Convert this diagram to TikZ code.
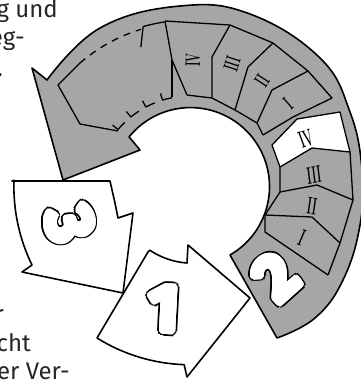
\documentclass[tikz,border=0pt]{standalone}
\usepackage{fontspec}
\usepackage{graphicx}
\newfontfamily\txtfont{Fira Sans}
\newfontfamily\digfont{Fira Sans}
\definecolor{ringgray}{HTML}{A6A6A6}
\definecolor{txtcol}{HTML}{262626}
\newcommand\fatglyph[1]{%
  \foreach \a in {0,20,...,340}{%
    \pgfmathsetlengthmacro\dx{4.6pt*cos(\a)}%
    \pgfmathsetlengthmacro\dy{4.6pt*sin(\a)}%
    \rlap{\hspace*{\dx}\raisebox{\dy}{\color{black}#1}}}%
  \foreach \a in {0,20,...,340}{%
    \pgfmathsetlengthmacro\dx{3pt*cos(\a)}%
    \pgfmathsetlengthmacro\dy{3pt*sin(\a)}%
    \rlap{\hspace*{\dx}\raisebox{\dy}{\color{white}#1}}}%
  {\color{white}#1}}
\tikzset{
  outl/.style={draw=black, line width=1.6pt, line join=round},
  thinl/.style={draw=black, line width=1.3pt, line join=round},
  dashl/.style={thinl, dash pattern=on 7pt off 6pt},
  digit/.style={inner sep=0pt, font=\digfont\bfseries\fontsize{66}{66}\selectfont},
  roman/.style={inner sep=0pt, font=\bfseries\fontsize{12}{12}\selectfont},
  sidetext/.style={anchor=base east, inner sep=0pt, text=txtcol, font=\txtfont\fontsize{24}{24}\selectfont},
}
\newcommand\rnum[1]{\scalebox{0.9}[2.0]{#1}}
\newcommand\rnumt[1]{\scalebox{0.85}[1.75]{#1}}
\begin{document}
\begin{tikzpicture}[x=1pt,y=-1pt]
\useasboundingbox (0,0) rectangle (360,380);
\fill[white] (0,0) rectangle (360,380);
\coordinate (c) at (190,190);

% piece 3
\path[outl, fill=white] (12,181) -- (110,181) -- (115,203) -- (118,218) -- (133,213) -- (123,293) -- (22,272) -- (32,265) arc[start angle=154, end angle=182, radius=179] -- cycle;
% piece 1
\path[outl, fill=white] (148,252) -- (97,338) arc[start angle=122, end angle=92, radius=176] -- (187,377) -- (250,298) -- (188,245) -- (187,263) arc[start angle=94, end angle=124, radius=76] -- cycle;
% gray ring arrow with piece 2
\path[outl, fill=ringgray] (277,338) -- (230,255) arc[start angle=60, end angle=-141, radius=79] -- (140,150) -- (63,180) -- (32,68) -- (47,80) -- plot[smooth, tension=0.7] coordinates {(47,80) (100,28) (180,6) (250,14) (320,58) (350,112) (362,170) (360,225) (343,280) (315,318) (277,338)} -- cycle;

% right compartments
\path[thinl, fill=white] (272,145) -- (297,119) -- (340,112) -- (350,152) -- (312,148) -- (280,167) -- cycle;
\draw[thinl] (280,167) -- (280,192) -- (317,185) -- (353,200);
\draw[thinl] (280,192) -- (265,215) -- (312,217) -- (340,243);
\draw[thinl] (265,215) -- (265,232) -- (328,275);
\draw[thinl] (350,152) -- (353,200) -- (340,243) -- (328,275);
% top compartments
\draw[thinl] (263,135) -- (293,117) -- (332,98) -- (308,71) -- (273,43) -- (230,25) -- (165,21);
\draw[thinl] (263,135) -- (257,123) -- (235,110) -- (212,98) -- (187,95);
\draw[thinl] (308,71) -- (272,90) -- (257,123);
\draw[thinl] (273,43) -- (248,67) -- (235,110);
\draw[thinl] (230,25) -- (212,57) -- (212,98);
\draw[thinl] (165,21) -- (172,60) -- (187,95);
\draw[thinl] (172,60) -- (172,97);
% unfinished compartment
\draw[thinl] ([shift={(-131:168)}]c) -- (58,85) -- (80,124) -- (118,131);
\draw[dashl] ([shift={(-131:168)}]c) arc[start angle=-131, end angle=-107, radius=168];
\draw[thinl] ([shift={(-106:170)}]c) arc[start angle=-106, end angle=-98.4, radius=170];
\draw[thinl] ([shift={(-106:170)}]c) -- ([shift={(-109:151)}]c);
\foreach \a in {-140,-129,-118,-107} {
  \draw[thinl] ([shift={(\a:101)}]c) -- ([shift={(\a:94)}]c) arc[start angle=\a, end angle={\a+6}, radius=94];
}

% digits
\node[digit, rotate=-75] (d3) at (70,224) {\fatglyph{3}};
\node[digit, rotate=-3] (d1) at (164,309) {\fatglyph{1}};
\node[digit, rotate=42] (d2) at (276,277) {\fatglyph{2}};

% roman numerals
\node[roman, rotate=89] (t4) at (193,60) {\rnumt{IV}};
\node[roman, rotate=72] (t3) at (232,64) {\rnumt{III}};
\node[roman, rotate=57] (t2) at (262,81) {\rnumt{II}};
\node[roman, rotate=41] (t1) at (288,104) {\rnumt{I}};
\node[roman, rotate=20] (r4) at (306,139) {\rnum{IV}};
\node[roman, rotate=7] (r3) at (314,175) {\rnum{III}};
\node[roman, rotate=-8] (r2) at (312,206) {\rnum{II}};
\node[roman, rotate=-23] (r1) at (302,238) {\rnum{I}};

% side text
\node[sidetext] (s1) at (58,17) {g und};
\node[sidetext] (s2) at (25,45) {eg-};
\node[sidetext] (s3) at (3,76) {.};
\node[sidetext] (s4) at (4,322) {r};
\node[sidetext] (s5) at (31,351) {cht};
\node[sidetext] (s6) at (70,379) {er Ver-};
\end{tikzpicture}
\end{document}
